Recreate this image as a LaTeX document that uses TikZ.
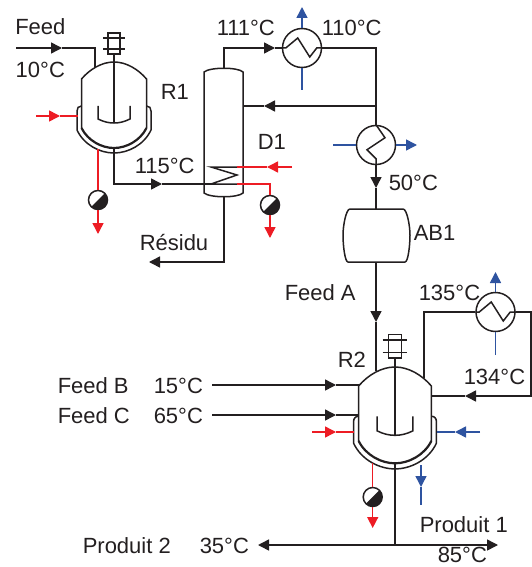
\documentclass[tikz,border=0pt]{standalone}
\usepackage{fontspec}
\setmainfont{Liberation Sans}
\usetikzlibrary{arrows.meta}
\definecolor{ink}{RGB}{35,31,32}
\definecolor{hot}{RGB}{237,28,36}
\definecolor{cold}{RGB}{46,83,160}
\tikzset{
  x=1pt,y=-1pt,
  lab/.style={anchor=base west,inner sep=0pt,text=ink,font=\fontsize{22}{24}\selectfont},
  tip/.style={-{Triangle[length=11pt,width=11pt]}},
  hotl/.style={color=hot},
  coldl/.style={color=cold},
  hx/.style={circle,draw=ink,fill=white,minimum size=39pt,inner sep=0pt},
  pumpn/.style={circle,draw=ink,minimum size=19pt,inner sep=0pt,fill=white,
    path picture={\fill[ink] (path picture bounding box.south west)--(path picture bounding box.north east)--(path picture bounding box.south east)--cycle;}},
  reactor/.pic={
    % motor and agitator
    \draw[fill=white] (-6,-29) rectangle (6,-8);
    \draw (-11,-24) -- (11,-24) (-11,-13) -- (11,-13);
    \draw (0,-8) -- (0,61);
    \draw (-16,44) -- (-16,57) .. controls (-10,60) and (-5,61) .. (0,61) .. controls (5,61) and (10,60) .. (16,57) -- (16,44);
    % vessel
    \draw (-32.5,66) -- (-32.5,17) .. controls (-24,7) and (-12,0) .. (0,0) .. controls (12,0) and (24,7) .. (32.5,17) -- (32.5,66);
    \draw[line width=2.2pt] (-32.5,66) .. controls (-26,79) and (-12,86) .. (0,86) .. controls (12,86) and (26,79) .. (32.5,66);
    % jacket
    \draw (-32.5,44) .. controls (-35.5,44) and (-37,46) .. (-37,49) -- (-37,68) .. controls (-30,83) and (-14,91) .. (0,91) .. controls (14,91) and (30,83) .. (37,68) -- (37,49) .. controls (37,46) and (35.5,44) .. (32.5,44);
    \coordinate (bot) at (0,86);
  },
}
\begin{document}
\begin{tikzpicture}[color=ink,line width=1.5pt]
\useasboundingbox (0,0) rectangle (532,567);
% equipment
\pic (rA) at (114,62) {reactor};
\pic[scale=1.12] (rB) at (395,367) {reactor};
\coordinate (colTop) at (224,68);
\coordinate (colBot) at (224,197);
\draw (204,72) .. controls (210,67) and (238,67) .. (243,72) -- (243,193) .. controls (238,198) and (210,198) .. (204,193) -- cycle;
\draw (350,209) -- (403,209) .. controls (407,209) and (410,226) .. (410,235) .. controls (410,246) and (408,262) .. (405,262) -- (348,262) .. controls (345,262) and (343,246) .. (343,235) .. controls (343,226) and (346,209) .. (350,209) -- cycle;
\coordinate (tkTop) at (376,209);
\coordinate (tkBot) at (376,262);
% exchangers
\node[hx] (e1) at (302,48) {};
\node[hx] (e2) at (376,145) {};
\node[hx] (e3) at (495.5,312) {};
\draw (e1.west) -- ++(4,0) -- ++(12,-10) -- ++(12,19) -- ++(7,-9) -- (e1.east);
\draw (e3.west) -- ++(4,0) -- ++(12,-10) -- ++(12,19) -- ++(7,-9) -- (e3.east);
\draw (e2.north) -- ++(9,13) -- ++(-18,12) -- ++(9,9) -- (e2.south);
% pumps
\node[pumpn] (p1) at (98,200) {};
\node[pumpn] (p2) at (270,205) {};
\node[pumpn] (p3) at (372.7,497) {};
% coil
\coordinate (coilA) at (237,167);
\coordinate (coilB) at (237,184);
\draw (coilA) -- (211,167) -- (237,175) -- (211,184) -- (coilB);
% process lines
\coordinate (feedS) at (16,48);
\coordinate (feedM) at (62,48);
\draw[tip] (feedS) -- (feedM);
\draw (feedM) -- (95,48) -- (95,68);
\coordinate (m115) at (162,184);
\draw[tip] (rAbot) -- (114,184) -- (m115);
\draw (m115) -- (211,184);
\coordinate (m111) at (275,48);
\draw[tip] (colTop) -- (224,48) -- (m111);
\draw (m111) -- (e1.west);
\coordinate (j1) at (376,106);
\draw (e1.east) -- (376,48) -- (j1);
\coordinate (mRef) at (264,106);
\draw[tip] (j1) -- (mRef);
\draw (mRef) -- (243,106);
\draw (j1) -- (e2.north);
\coordinate (m50) at (376,188);
\draw[tip] (e2.south) -- (m50);
\draw (m50) -- (tkTop);
\coordinate (mA) at (376,322);
\draw[tip] (tkBot) -- (mA);
\draw (mA) -- (376,371);
\coordinate (resEnd) at (149,262);
\draw[tip] (colBot) -- (224,262) -- (resEnd);
% R2 recycle
\draw (424,378) -- (424,312) -- (e3.west);
\coordinate (m134) at (465,396);
\draw[tip] (e3.east) -- (531.2,312) -- (531.2,396) -- (m134);
\draw (m134) -- (432,396);
% feeds B C
\coordinate (fbS) at (212,385);
\coordinate (fbM) at (336,385);
\draw[tip] (fbS) -- (fbM);
\draw (fbM) -- (358.5,385);
\coordinate (fcS) at (212,415);
\coordinate (fcM) at (336,415);
\draw[tip] (fcS) -- (fcM);
\draw (fcM) -- (358.5,415);
% products
\coordinate (prodJ) at (395,545);
\coordinate (prodL) at (258,545);
\coordinate (prodR) at (498,545);
\draw (rBbot) -- (prodJ);
\draw[tip] (prodJ) -- (prodL);
\draw[tip] (prodJ) -- (prodR);
% red utilities
\coordinate (hA) at (36,116);
\coordinate (hAm) at (60,116);
\draw[hotl,tip] (hA) -- (hAm);
\draw[hotl] (hAm) -- (77.5,116);
\draw[hotl] (98,149) -- (p1.north);
\coordinate (p1e) at (98,234);
\draw[hotl,tip] (p1.south) -- (p1e);
\coordinate (hD) at (292,167);
\coordinate (hDm) at (267,167);
\draw[hotl,tip] (hD) -- (hDm);
\draw[hotl] (hDm) -- (coilA);
\draw[hotl] (coilB) -- (270,184) -- (p2.north);
\coordinate (p2e) at (270,238);
\draw[hotl,tip] (p2.south) -- (p2e);
\coordinate (hB) at (312,432);
\coordinate (hBm) at (336,432);
\draw[hotl,tip] (hB) -- (hBm);
\draw[hotl] (hBm) -- (354,432);
\draw[hotl] (372.7,463) -- (p3.north);
\coordinate (p3e) at (372.7,528);
\draw[hotl,tip] (p3.south) -- (p3e);
% blue utilities
\coordinate (c1a) at (302,90);
\coordinate (c1b) at (302,7);
\draw[coldl] (c1a) -- (e1.south);
\draw[coldl,tip] (e1.north) -- (c1b);
\coordinate (c2a) at (333,145);
\coordinate (c2b) at (417,145);
\draw[coldl] (c2a) -- (e2.west);
\draw[coldl,tip] (e2.east) -- (c2b);
\coordinate (c3a) at (495.5,355);
\coordinate (c3b) at (495.5,272);
\draw[coldl] (c3a) -- (e3.south);
\draw[coldl,tip] (e3.north) -- (c3b);
\coordinate (c4a) at (480,432);
\coordinate (c4m) at (455,432);
\draw[coldl,tip] (c4a) -- (c4m);
\draw[coldl] (c4m) -- (436.5,432);
\coordinate (c5a) at (421,465);
\coordinate (c5m) at (421,487);
\draw[coldl,tip] (c5a) -- (c5m);
\draw[coldl] (c5m) -- (421,505);
% labels
\node[lab] (t1) at (14.5,35) {Feed};
\node[lab] (t2) at (15,78) {10°C};
\node[lab] (t3) at (160,100) {R1};
\node[lab] (t4) at (134,173) {115°C};
\node[lab] (t5) at (216,36) {111°C};
\node[lab] (t6) at (321,36) {110°C};
\node[lab] (t7) at (257,149) {D1};
\node[lab] (t8) at (388,190) {50°C};
\node[lab] (t9) at (413,240) {AB1};
\node[lab] (t10) at (139,250) {Résidu};
\node[lab] (t11) at (284,300) {Feed A};
\node[lab] (t12) at (418,300) {135°C};
\node[lab] (t13) at (463,384) {134°C};
\node[lab] (t14) at (337,367) {R2};
\node[lab] (t15) at (57,393) {Feed B};
\node[lab] (t16) at (153,393) {15°C};
\node[lab] (t17) at (57,423) {Feed C};
\node[lab] (t18) at (153,423) {65°C};
\node[lab] (t19) at (419,532) {Produit 1};
\node[lab] (t20) at (82,553) {Produit 2};
\node[lab] (t21) at (199,553) {35°C};
\node[lab] (t22) at (437,562) {85°C};
\end{tikzpicture}
\end{document}
